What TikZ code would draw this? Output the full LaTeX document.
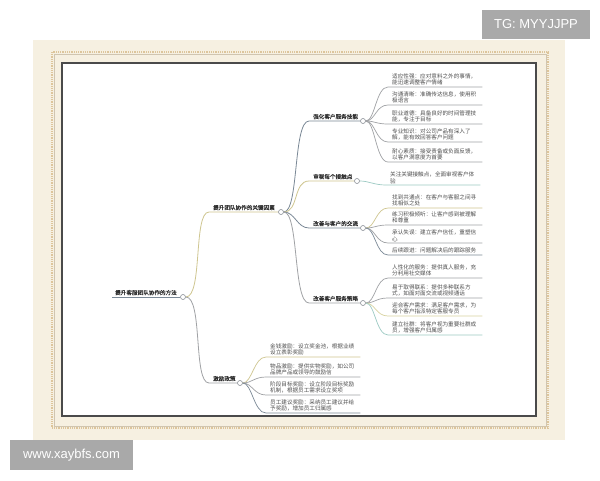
\documentclass[tikz,border=0pt]{standalone}
\usepackage{fontspec}
\newfontfamily\cjk{Noto Sans CJK SC}
\newfontfamily\cjkb[FakeBold=0.6]{Noto Sans CJK SC}
\newfontfamily\wmfont{Liberation Sans}
\definecolor{bgbeige}{HTML}{F6F0E1}
\definecolor{dotcol}{HTML}{DDC59B}
\definecolor{framecol}{HTML}{4A4A4A}
\definecolor{wmgray}{HTML}{A9A9A9}
\definecolor{labeltext}{HTML}{2E2E2E}
\definecolor{leaftext}{HTML}{4E4E4E}
\definecolor{dotgray}{HTML}{8A8F96}
\definecolor{cslate}{HTML}{7A8896}
\definecolor{ctan}{HTML}{CFC690}
\definecolor{cgray}{HTML}{A0A2A5}
\definecolor{cteal}{HTML}{9CCAC3}
\definecolor{cyellow}{HTML}{D8D3A0}
\begin{document}
\begin{tikzpicture}[x=1pt,y=-1pt,
  lbl/.style={font=\cjkb\fontsize{5.6}{6.7}\selectfont, text=labeltext, anchor=south west, inner xsep=4pt, inner ysep=1.6pt},
  leaf/.style={font=\cjk\fontsize{5.6}{6.7}\selectfont, text=leaftext, anchor=south west, inner xsep=4pt, inner ysep=1.4pt, align=left, text width=86pt},
  dot/.style={circle, draw=dotgray, fill=white, line width=0.6pt, inner sep=0pt, minimum size=5pt},
  br/.style={line width=0.8pt},
  lf/.style={line width=0.7pt},
  wm/.style={fill=wmgray, text=white, inner sep=0pt, font=\wmfont\fontsize{13}{13}\selectfont}
]
\useasboundingbox (0,0) rectangle (600,480);
\fill[white] (0,0) rectangle (600,480);
% paper background
\fill[bgbeige] (33,40) rectangle (565,440);
\draw[dotcol, line width=1.6pt, dash pattern=on 1pt off 0.8pt] (52,52) rectangle (548,428);
\draw[dotcol!80!black!60, line width=0.3pt] (54,54) rectangle (546,426);
\draw[framecol, line width=1.5pt, fill=white] (62,63) rectangle (536,416);

% watermarks
\node[wm, minimum width=108pt, minimum height=29pt] (tg) at (536,24.5) {TG: MYYJJPP};
\node[wm, minimum width=123pt, minimum height=30pt] (site) at (71.5,455) {www.xaybfs.com};

% root
\node[lbl, inner xsep=3pt] (root) at (112,297) {提升客服团队协作的方法};
\node[dot] (rootc) at (183,297) {};
\draw[br, cslate] (root.south west) -- (rootc);

% level 1
\node[lbl] (key) at (209,212) {提升团队协作的关键因素};
\node[dot] (keyc) at (281,212) {};
\node[lbl] (inc) at (209,383) {激励政策};
\node[dot] (incc) at (240,383) {};
\draw[br, ctan] (rootc) .. controls +(20,0) and +(-16,0) .. (key.south west) -- (keyc);
\draw[br, cgray] (rootc) .. controls +(20,0) and +(-16,0) .. (inc.south west) -- (incc);

% level 2
\node[lbl] (skill) at (309,121) {强化客户服务技能};
\node[dot] (skillc) at (363,121) {};
\node[lbl] (rev) at (309,181) {审视每个接触点};
\node[dot] (revc) at (357,181) {};
\node[lbl] (comm) at (309,228) {改善与客户的交流};
\node[dot] (commc) at (363,228) {};
\node[lbl] (strat) at (309,303) {改善客户服务策略};
\node[dot] (stratc) at (363,303) {};
\draw[br, cslate] (keyc) .. controls +(18,0) and +(-16,0) .. (skill.south west) -- (skillc);
\draw[br, ctan] (keyc) .. controls +(18,0) and +(-16,0) .. (rev.south west) -- (revc);
\draw[br, cslate] (keyc) .. controls +(14,0) and +(-12,0) .. (comm.south west) -- (commc);
\draw[br, cgray] (keyc) .. controls +(18,0) and +(-16,0) .. (strat.south west) -- (stratc);

% leaves: skill
\node[leaf] (s1) at (388,87) {适应性强：应对意料之外的事情，\\能迅速调整客户情绪};
\node[leaf] (s2) at (388,105) {沟通清晰：准确传达信息，使用积\\极语言};
\node[leaf] (s3) at (388,124) {职业道德：具备良好的时间管理技\\能，专注于目标};
\node[leaf] (s4) at (388,142) {专业知识：对公司产品有深入了\\解，能有效回答客户问题};
\node[leaf] (s5) at (388,162) {耐心素质：接受责备或负面反馈，\\以客户满意度为首要};
\draw[lf, cgray] (skillc) .. controls +(12,0) and +(-12,0) .. (s1.south west) -- (s1.south east);
\draw[lf, cgray] (skillc) .. controls +(12,0) and +(-12,0) .. (s2.south west) -- (s2.south east);
\draw[lf, cgray] (skillc) .. controls +(12,0) and +(-12,0) .. (s3.south west) -- (s3.south east);
\draw[lf, cgray] (skillc) .. controls +(12,0) and +(-12,0) .. (s4.south west) -- (s4.south east);
\draw[lf, cgray] (skillc) .. controls +(12,0) and +(-12,0) .. (s5.south west) -- (s5.south east);

% leaves: review
\node[leaf] (r1) at (386,185) {关注关键接触点，全面审视客户体\\验};
\draw[lf, cteal] (revc) .. controls +(12,0) and +(-12,0) .. (r1.south west) -- (r1.south east);

% leaves: communication
\node[leaf] (c1) at (388,208) {找到共通点：在客户与客服之间寻\\找相似之处};
\node[leaf] (c2) at (388,225) {练习积极倾听：让客户感到被理解\\和尊重};
\node[leaf] (c3) at (388,243) {承认失误：建立客户信任，重塑信\\心};
\node[leaf] (c4) at (388,255) {后续跟进：问题解决后的跟踪服务};
\draw[lf, ctan] (commc) .. controls +(12,0) and +(-12,0) .. (c1.south west) -- (c1.south east);
\draw[lf, cgray] (commc) .. controls +(12,0) and +(-12,0) .. (c2.south west) -- (c2.south east);
\draw[lf, cgray] (commc) .. controls +(12,0) and +(-12,0) .. (c3.south west) -- (c3.south east);
\draw[lf, cslate] (commc) .. controls +(12,0) and +(-12,0) .. (c4.south west) -- (c4.south east);

% leaves: strategy
\node[leaf] (t1) at (388,278) {人性化的服务：提供真人服务，充\\分利用社交媒体};
\node[leaf] (t2) at (388,298) {易于取得联系：提供多种联系方\\式，如面对面交流或视频通话};
\node[leaf] (t3) at (388,316) {迎合客户需求：满足客户需求，为\\每个客户指派特定客服专员};
\node[leaf] (t4) at (388,335) {建立社群：将客户视为重要社群成\\员，增强客户归属感};
\draw[lf, cgray] (stratc) .. controls +(12,0) and +(-12,0) .. (t1.south west) -- (t1.south east);
\draw[lf, cgray] (stratc) .. controls +(12,0) and +(-12,0) .. (t2.south west) -- (t2.south east);
\draw[lf, cyellow] (stratc) .. controls +(12,0) and +(-12,0) .. (t3.south west) -- (t3.south east);
\draw[lf, cteal] (stratc) .. controls +(12,0) and +(-12,0) .. (t4.south west) -- (t4.south east);

% leaves: incentives
\node[leaf] (i1) at (266,357) {金钱激励：设立奖金池，根据业绩\\设立表彰奖励};
\node[leaf] (i2) at (266,377) {物品激励：提供实物奖励，如公司\\品牌产品或领导的鼓励信};
\node[leaf] (i3) at (266,395) {阶段目标奖励：设立阶段目标奖励\\机制，根据员工需求设立奖项};
\node[leaf] (i4) at (266,413) {员工建议奖励：采纳员工建议并给\\予奖励，增加员工归属感};
\draw[lf, ctan] (incc) .. controls +(12,0) and +(-12,0) .. (i1.south west) -- (i1.south east);
\draw[lf, cgray] (incc) .. controls +(12,0) and +(-12,0) .. (i2.south west) -- (i2.south east);
\draw[lf, cgray] (incc) .. controls +(12,0) and +(-12,0) .. (i3.south west) -- (i3.south east);
\draw[lf, cslate] (incc) .. controls +(12,0) and +(-12,0) .. (i4.south west) -- (i4.south east);
\end{tikzpicture}
\end{document}
